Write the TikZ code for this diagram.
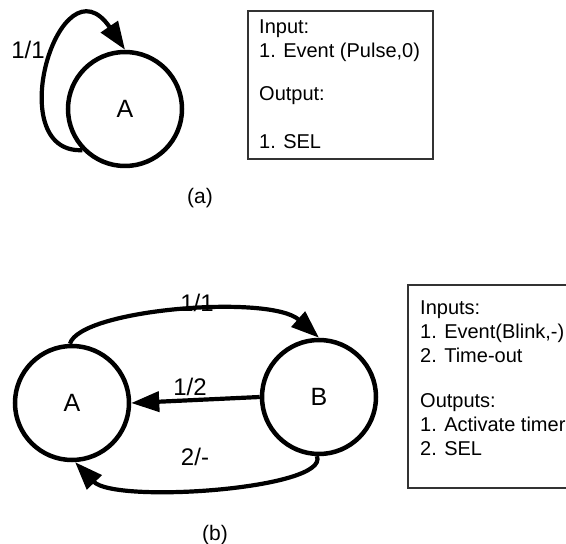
\documentclass[tikz,border=0pt]{standalone}
\usepackage{fontspec}
\setmainfont{Liberation Sans}
\usetikzlibrary{arrows.meta}

\begin{document}
\begin{tikzpicture}[x=1pt, y=1pt,
    state/.style={circle, draw=black, line width=4.5pt, minimum size=114pt, inner sep=0pt, font=\fontsize{25}{30}\selectfont},
    trans/.style={line width=4.2pt, -{Triangle[length=28pt, width=20pt]}},
    lbl/.style={font=\fontsize{24}{28}\selectfont},
    capt/.style={font=\fontsize{21}{25}\selectfont},
    infotext/.style={anchor=north west, align=left, inner sep=0pt, font=\fontsize{20}{24}\selectfont}]

\useasboundingbox (0,0) rectangle (566,544);
\clip (0,0) rectangle (566,544);

% (a): one state with a self loop
\begin{scope}
    \node[state] (Aa) at (125,435) {A};
    \draw[trans] (Aa.224) .. controls (0,390) and (60,590) .. (Aa.north);
    \node[lbl] (loopa) at (28,494) {1/1};

    \draw[black!80, line width=1.2pt] (248,533) rectangle (433,385);
    \node[infotext] (infoa) at (259,524) {Input:\\1. Event (Pulse,0)\\[19pt]Output:\\[24pt]1. SEL};

    \node[capt, anchor=base] (capa) at (200,340) {(a)};
\end{scope}

% (b): two states
\begin{scope}
    \node[state] (Ab) at (72,141) {A};
    \node[state] (Bb) at (319,147) {B};

    \draw[trans] (Ab.92) .. controls (80,235) and (270,250) .. (Bb.north);
    \draw[trans] (Bb.west) -- (Ab.east);
    \draw[trans] (Bb.268) .. controls (330,55) and (115,40) .. (Ab.273);

    \node[lbl] (topb) at (197,241) {1/1};
    \node[lbl] (midb) at (190,157) {1/2};
    \node[lbl] (botb) at (195,87) {2/-};

    \draw[black!80, line width=1.2pt] (408,259) rectangle (580,56);
    \node[infotext] (infob) at (420,243) {Inputs:\\1. Event(Blink,-)\\2. Time-out\\[21pt]Outputs:\\1. Activate timer\\2. SEL};

    \node[capt, anchor=base] (capb) at (215,3) {(b)};
\end{scope}

\end{tikzpicture}
\end{document}
